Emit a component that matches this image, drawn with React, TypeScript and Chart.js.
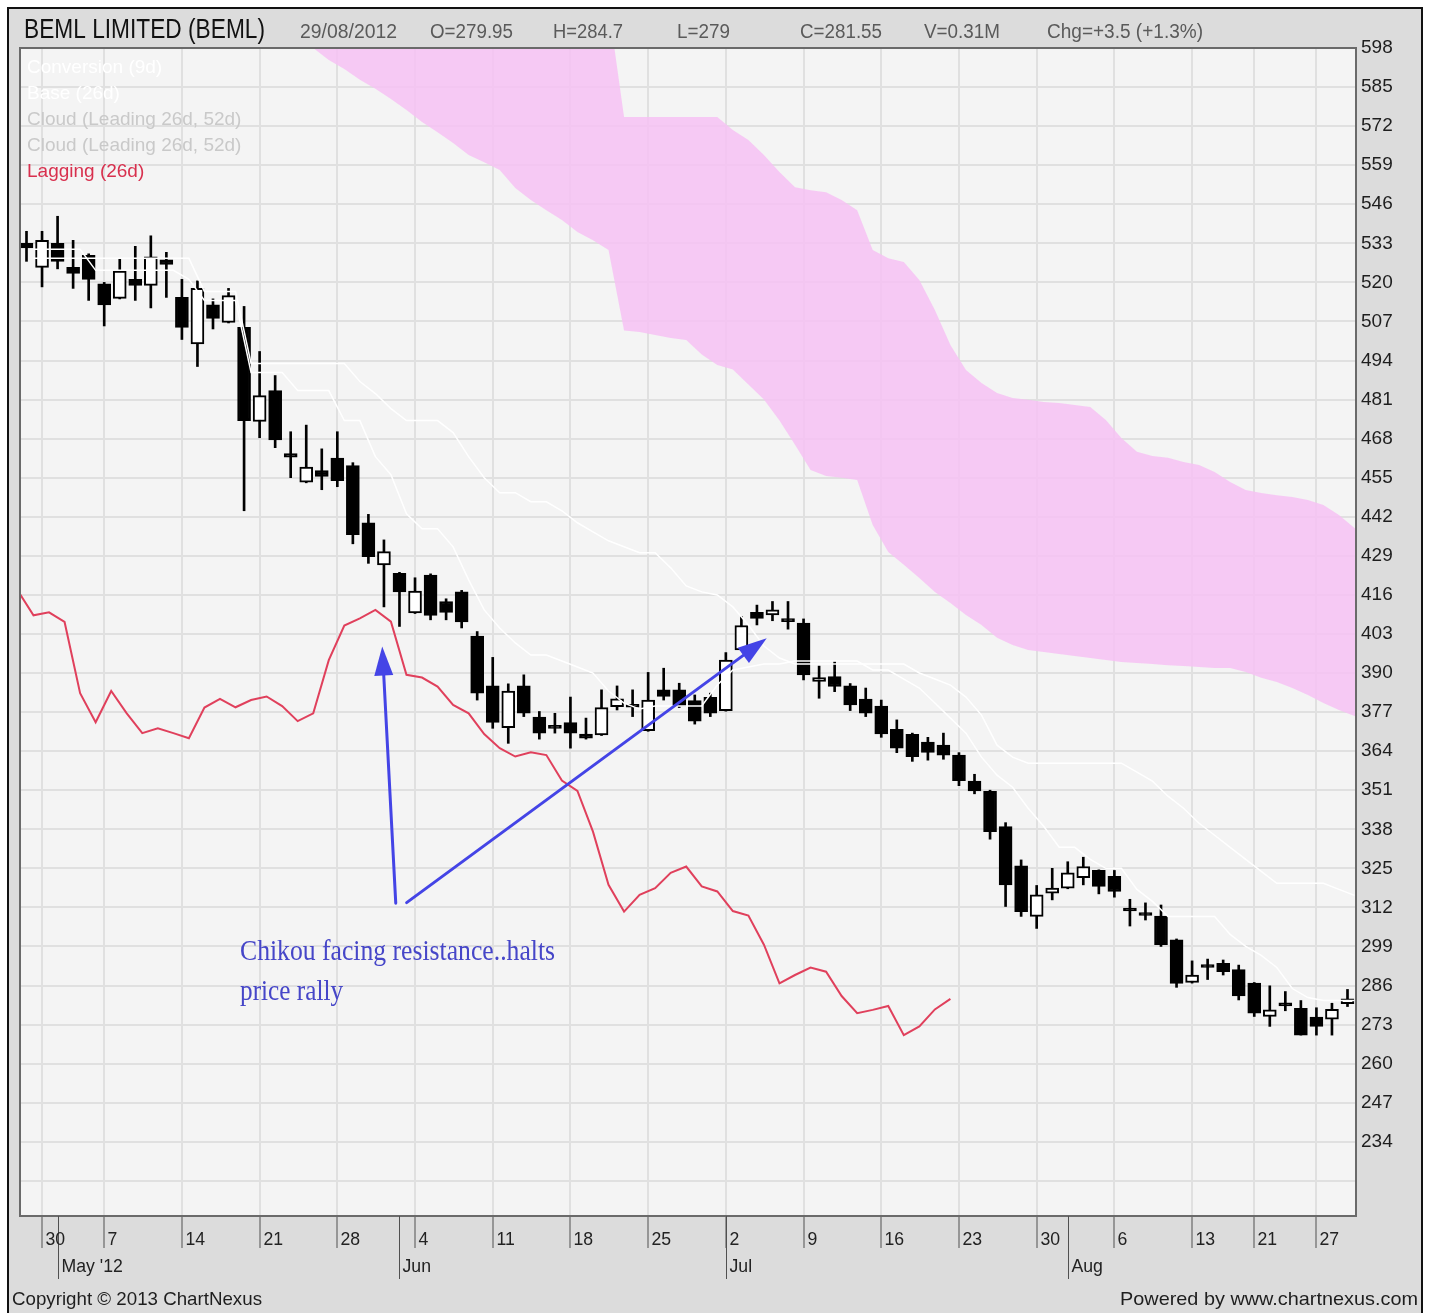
import React, { useEffect, useRef } from 'react';
import { Chart, registerables } from 'chart.js';

Chart.register(...registerables);

// ---------- data ----------
const DATES = [
  '2012-04-27', '2012-04-30',
  '2012-05-02', '2012-05-03', '2012-05-04', '2012-05-07', '2012-05-08', '2012-05-09', '2012-05-10', '2012-05-11',
  '2012-05-14', '2012-05-15', '2012-05-16', '2012-05-17', '2012-05-18', '2012-05-21', '2012-05-22', '2012-05-23',
  '2012-05-24', '2012-05-25', '2012-05-28', '2012-05-29', '2012-05-30', '2012-05-31',
  '2012-06-01', '2012-06-04', '2012-06-05', '2012-06-06', '2012-06-07', '2012-06-08', '2012-06-11', '2012-06-12',
  '2012-06-13', '2012-06-14', '2012-06-15', '2012-06-18', '2012-06-19', '2012-06-20', '2012-06-21', '2012-06-22',
  '2012-06-25', '2012-06-26', '2012-06-27', '2012-06-28', '2012-06-29',
  '2012-07-02', '2012-07-03', '2012-07-04', '2012-07-05', '2012-07-06', '2012-07-09', '2012-07-10', '2012-07-11',
  '2012-07-12', '2012-07-13', '2012-07-16', '2012-07-17', '2012-07-18', '2012-07-19', '2012-07-20', '2012-07-23',
  '2012-07-24', '2012-07-25', '2012-07-26', '2012-07-27', '2012-07-30', '2012-07-31',
  '2012-08-01', '2012-08-02', '2012-08-03', '2012-08-06', '2012-08-07', '2012-08-08', '2012-08-09', '2012-08-10',
  '2012-08-13', '2012-08-14', '2012-08-16', '2012-08-17', '2012-08-21', '2012-08-22', '2012-08-23', '2012-08-24',
  '2012-08-27', '2012-08-28', '2012-08-29',
];

const OPEN = [
  533, 525, 533, 525, 529, 519.5, 514.7, 521, 519, 527.5,
  515, 499.5, 512.5, 506.7, 505, 473.7, 484, 463, 453.5, 457.4,
  461.5, 459, 440, 426, 423.2, 410, 422.6, 413.8, 417, 402.3,
  385.7, 371.8, 385.7, 375.3, 372.3, 373.5, 369.7, 369.4, 378.8, 379.3,
  370.8, 384.4, 384.4, 380.8, 381.9, 377.5, 397.7, 410.2, 409.3, 408,
  406.6, 387.2, 388.8, 385.7, 381.3, 379, 371.3, 369.6, 367, 366,
  362.7, 354, 350.6, 338.9, 325.8, 309, 316.7, 318.4, 321.9, 324.3,
  322.3, 311.8, 310.3, 309.1, 301.2, 287, 292.8, 293.4, 291.3, 286.8,
  275.7, 280.2, 278.4, 275.5, 274.8, 279.95,
];
const HIGH = [
  537, 537, 542, 534, 529.5, 520, 528, 532, 535.5, 530,
  521, 520.5, 514.5, 518, 512, 497, 489, 470.3, 472.5, 464.6,
  470.3, 460, 442.8, 434.3, 423.5, 421.7, 423, 414.7, 417.5, 403.8,
  395.2, 386.4, 389.4, 377.2, 376.6, 382, 375, 384.4, 385.7, 384.4,
  390.2, 391.6, 386.6, 382.7, 383.3, 396.8, 408.8, 412.6, 413.8, 413.8,
  408, 392.3, 393.8, 386.5, 385, 381, 374.4, 370, 368.6, 370,
  363.5, 356.3, 351, 340.2, 327.8, 319.3, 325, 327.2, 328.7, 324.5,
  324.3, 314.7, 313.5, 312.8, 301.5, 294.2, 294.8, 294.5, 292.8, 287,
  285.9, 284, 281, 278.6, 280.1, 284.7,
];
const LOW = [
  527, 518.5, 524.5, 518, 514, 505.5, 514.5, 514, 511.5, 515,
  501, 492, 504.5, 506.5, 444, 468.3, 465, 455, 453.3, 451,
  452, 433, 426.5, 412, 405.5, 409.8, 407.7, 407.7, 405, 381,
  371.6, 366.6, 375.5, 368, 370, 365, 368, 369.2, 377.7, 375.5,
  370.6, 381, 378.5, 373, 375.5, 377.3, 397.5, 406, 407.4, 404.6,
  387.7, 381.6, 383.8, 377.5, 375.5, 368.6, 363.5, 360.6, 361, 361.3,
  352.5, 349.8, 334.7, 312.3, 309, 305, 314.5, 318.2, 319.5, 316.5,
  315.4, 305.8, 307.8, 299, 285.4, 286.8, 288, 289.5, 281.2, 275.7,
  272.4, 277.6, 269.5, 269.5, 269.5, 279,
];
const CLOSE = [
  531.5, 534, 527, 523, 521, 512.5, 523.8, 519, 528.5, 526,
  505, 518, 508, 515.6, 474, 482.3, 467.6, 461.8, 458.5, 455.4,
  454, 436, 428.7, 430.4, 417, 417.3, 409.2, 410.2, 407, 383.3,
  373.6, 384, 376.6, 370, 371.6, 370, 368.3, 378.5, 381.4, 378.6,
  381, 382.2, 379, 374, 376.6, 394.3, 405.8, 408.2, 411, 407.1,
  389.4, 388.5, 385.5, 379.4, 376.6, 369.7, 365, 362.2, 363.6, 362.7,
  354.2, 350.8, 337.2, 319.5, 310.6, 316.2, 318.4, 323.5, 325.6, 319,
  317.3, 310.8, 309.3, 299.6, 286.7, 289.5, 292, 290.6, 282.5, 276.8,
  277.9, 279.2, 269.5, 272.4, 278.05, 281.55,
];
const VOLUME_LAST = '0.31M';

// Conversion (9d) line, index 0..85
const CONVERSION = [
  531, 531, 531, 531, 524, 524, 524, 524, 524, 524,
  521, 514, 514, 514, 490, 490, 490, 484, 484, 484,
  474, 474, 462, 456, 443, 438, 438, 432, 421, 411,
  405, 400, 396, 396, 394, 392, 390, 384, 380, 378,
  379, 379, 379, 379, 386, 391, 392, 393, 393, 394,
  394, 394, 394, 394, 391, 391, 388, 385, 380, 375,
  370, 362, 356, 352, 345, 339, 332, 332, 328, 325,
  325, 318, 314, 309, 309, 309, 309, 303, 299, 296,
  292, 285, 282, 281, 281, 281,
];
// Base (26d) line, index 0..85
const BASE = [
  528, 528, 528, 528, 528, 528, 528, 528, 528, 528,
  528, 517, 517, 517, 493, 493, 493, 493, 493, 493,
  493, 487, 483, 478, 474, 474, 474, 470, 462, 455,
  450, 450, 447, 447, 444, 440, 437, 434, 432, 430,
  430, 425, 419, 417, 416, 412, 406, 399, 395, 393,
  393, 393, 393, 393, 393, 393, 393, 390, 388, 386,
  382, 376, 366, 362, 360, 360, 360, 360, 360, 360,
  360, 357, 354, 349, 345, 340, 336, 332, 328, 324,
  320, 320, 320, 320, 318, 316,
];
// Cloud boundaries, index 16..86
const CLOUD_START = 16;
const CLOUD_UPPER = [
  612, 612, 612, 612, 612, 612, 612, 612, 612, 612,
  612, 612, 612, 612, 612, 612, 612, 612, 612, 612,
  612, 612, 575, 575, 575, 575, 575, 575, 575, 570.7,
  567.4, 562.4, 556.7, 551.7, 550.7, 550, 547.4, 544, 530.8, 528,
  526.8, 520.8, 510.8, 499.2, 490.8, 486.5, 483.2, 481.5, 480.9, 480.2,
  479.9, 479.2, 478.5, 474.2, 468.2, 463.6, 462.2, 461.6, 460.2, 459.2,
  456.9, 453.6, 450.9, 449.9, 449.2, 448.6, 447.6, 445.9, 442.6, 438.3,
  434,
];
const CLOUD_LOWER = [
  608, 603, 598, 594, 591, 587.4, 584.4, 581, 577.4, 573.4,
  570, 566.4, 562.4, 560, 557.4, 551.4, 547.4, 544, 540.8, 536.8,
  534, 530.8, 504, 503.5, 502.5, 501.5, 500.8, 496, 492.5, 491,
  486, 481, 474, 466, 457.6, 455.6, 455, 454.2, 439.3, 430.3,
  426, 421.6, 417, 413.3, 409.3, 406, 401.7, 399.3, 397.7, 397,
  396.3, 395.7, 395, 394.3, 393.7, 393.3, 393, 392.6, 392.3, 392,
  391.7, 391.7, 390.3, 388.4, 387, 385, 382.7, 380, 377.7, 375.7,
  374,
];
// Lagging (26d) line, index -1..59
const LAGGING_START = -1;
const LAGGING = [
  417.3, 409.2, 410.2, 407, 383.3, 373.6, 384, 376.6, 370, 371.6,
  370, 368.3, 378.5, 381.4, 378.6, 381, 382.2, 379, 374, 376.6,
  394.3, 405.8, 408.2, 411, 407.1, 389.4, 388.5, 385.5, 379.4, 376.6,
  369.7, 365, 362.2, 363.6, 362.7, 354.2, 350.8, 337.2, 319.5, 310.6,
  316.2, 318.4, 323.5, 325.6, 319, 317.3, 310.8, 309.3, 299.6, 286.7,
  289.5, 292, 290.6, 282.5, 276.8, 277.9, 279.2, 269.5, 272.4, 278.05,
  281.55,
];

const X_TICK_INDEX = [1, 5, 10, 15, 20, 25, 30, 35, 40, 45, 50, 55, 60, 65, 70, 75, 79, 83];
const X_TICK_LABELS = ['30', '7', '14', '21', '28', '4', '11', '18', '25', '2', '9', '16', '23', '30', '6', '13', '21', '27'];
const MONTH_INDEX = [2, 24, 45, 67];
const MONTH_LABELS = ["May '12", 'Jun', 'Jul', 'Aug'];
const Y_TICKS = [598, 585, 572, 559, 546, 533, 520, 507, 494, 481, 468, 455, 442, 429, 416, 403, 390, 377, 364, 351, 338, 325, 312, 299, 286, 273, 260, 247, 234];
const Y_EXTRA_GRID = [221];

const LEGEND = [
  { text: 'Conversion (9d)', color: '#ffffff' },
  { text: 'Base (26d)', color: '#ffffff' },
  { text: 'Cloud (Leading 26d, 52d)', color: '#c9c9c9' },
  { text: 'Cloud (Leading 26d, 52d)', color: '#c9c9c9' },
  { text: 'Lagging (26d)', color: '#d8304e' },
];
const NOTE_LINES = ['Chikou facing resistance..halts', 'price rally'];
const ARROWS = [
  { from: [23.76, 313.4], to: [22.89, 398.8] },
  { from: [24.46, 313.6], to: [47.63, 401.6] },
];
const NOTE_ANCHOR = [13.74, 294.5];

// ---------- layout / style constants ----------
const W = 1429;
const H = 1313;
const X_MIN = -0.418;
const X_MAX = 85.547;
const Y_MIN = 209.3;
const Y_MAX = 598;
const LINE_SHIFT = 0.45;
const SANS = '"Liberation Sans", Arial, Helvetica, sans-serif';
const SERIF = '"Liberation Serif", "Times New Roman", serif';

function drawText(
  ctx: CanvasRenderingContext2D,
  text: string,
  x: number,
  y: number,
  font: string,
  color: string,
  opts: { width?: number; sx?: number; align?: CanvasTextAlign } = {}
) {
  ctx.save();
  ctx.font = font;
  ctx.fillStyle = color;
  ctx.textBaseline = 'alphabetic';
  ctx.textAlign = opts.align || 'left';
  let sx = opts.sx ?? 1;
  if (opts.width) sx = opts.width / ctx.measureText(text).width;
  ctx.translate(x, y);
  ctx.scale(sx, 1);
  ctx.fillText(text, 0, 0);
  ctx.restore();
}

const overlayPlugin = {
  id: 'overlay',
  beforeDraw(chart: any) {
    const { ctx, chartArea: a } = chart;
    ctx.save();
    ctx.fillStyle = '#f4f4f4';
    ctx.fillRect(a.left, a.top, a.right - a.left, a.bottom - a.top);
    ctx.restore();
  },
  afterDraw(chart: any) {
    const { ctx, chartArea: a, scales } = chart;
    const xs = scales.x;
    const ys = scales.y;

    // annotations (arrows + note)
    ctx.save();
    ctx.beginPath();
    ctx.rect(a.left, a.top, a.right - a.left, a.bottom - a.top);
    ctx.clip();
    const arrowColor = '#4444e6';
    ARROWS.forEach((ar) => {
      const x0 = xs.getPixelForValue(ar.from[0]);
      const y0 = ys.getPixelForValue(ar.from[1]);
      const x1 = xs.getPixelForValue(ar.to[0]);
      const y1 = ys.getPixelForValue(ar.to[1]);
      const len = Math.hypot(x1 - x0, y1 - y0);
      const ux = (x1 - x0) / len;
      const uy = (y1 - y0) / len;
      const headLen = 29;
      const headHalf = 9.5;
      const bx = x1 - ux * headLen;
      const by = y1 - uy * headLen;
      ctx.strokeStyle = arrowColor;
      ctx.lineWidth = 3;
      ctx.lineCap = 'round';
      ctx.beginPath();
      ctx.moveTo(x0, y0);
      ctx.lineTo(bx + ux * 2, by + uy * 2);
      ctx.stroke();
      ctx.fillStyle = arrowColor;
      ctx.beginPath();
      ctx.moveTo(x1, y1);
      ctx.lineTo(bx - uy * headHalf, by + ux * headHalf);
      ctx.lineTo(bx + uy * headHalf, by - ux * headHalf);
      ctx.closePath();
      ctx.fill();
    });
    const nx = xs.getPixelForValue(NOTE_ANCHOR[0]);
    const ny = ys.getPixelForValue(NOTE_ANCHOR[1]);
    drawText(ctx, NOTE_LINES[0], nx, ny, `30px ${SERIF}`, '#4646c8', { width: 315 });
    drawText(ctx, NOTE_LINES[1], nx, ny + 40, `30px ${SERIF}`, '#4646c8', { width: 103 });

    // legend
    LEGEND.forEach((l, k) => {
      drawText(ctx, l.text, a.left + 7, a.top + 25 + k * 26, `19px ${SANS}`, l.color);
    });
    ctx.restore();

    // plot border
    ctx.save();
    ctx.strokeStyle = '#6a6a6a';
    ctx.lineWidth = 2;
    ctx.strokeRect(a.left, a.top, a.right - a.left, a.bottom - a.top);

    // month ticks & labels
    ctx.strokeStyle = '#505050';
    ctx.lineWidth = 1;
    MONTH_INDEX.forEach((m, k) => {
      const px = Math.round(xs.getPixelForValue(m)) + 0.5;
      ctx.beginPath();
      ctx.moveTo(px, a.bottom);
      ctx.lineTo(px, a.bottom + 63);
      ctx.stroke();
      drawText(ctx, MONTH_LABELS[k], px + 3, a.bottom + 56, `19px ${SANS}`, '#222222', { sx: 0.93 });
    });
    // week labels
    X_TICK_INDEX.forEach((t, k) => {
      const px = Math.round(xs.getPixelForValue(t)) + 0.5;
      drawText(ctx, X_TICK_LABELS[k], px + 3, a.bottom + 29, `19px ${SANS}`, '#222222', { sx: 0.93 });
    });
    ctx.restore();

    // header
    const last = CLOSE.length - 1;
    const chg = Number((CLOSE[last] - CLOSE[last - 1]).toFixed(2));
    const pct = ((chg / CLOSE[last - 1]) * 100).toFixed(1);
    const [yy, mm, dd] = DATES[last].split('-');
    drawText(ctx, 'BEML LIMITED (BEML)', 24, 38, `28px ${SANS}`, '#111111', { width: 241 });
    const small = `20px ${SANS}`;
    const grey = '#5a5a5a';
    drawText(ctx, `${dd}/${mm}/${yy}`, 300, 38, small, grey, { width: 97 });
    drawText(ctx, `O=${OPEN[last]}`, 430, 38, small, grey, { width: 83 });
    drawText(ctx, `H=${HIGH[last]}`, 553, 38, small, grey, { width: 70 });
    drawText(ctx, `L=${LOW[last]}`, 677, 38, small, grey, { width: 53 });
    drawText(ctx, `C=${CLOSE[last]}`, 800, 38, small, grey, { width: 82 });
    drawText(ctx, `V=${VOLUME_LAST}`, 924, 38, small, grey, { width: 76 });
    drawText(ctx, `Chg=${chg >= 0 ? '+' : ''}${chg} (${chg >= 0 ? '+' : ''}${pct}%)`, 1047, 38, small, grey, { width: 156 });

    // footer
    drawText(ctx, 'Copyright \u00A9 2013 ChartNexus', 12, 1305, `19px ${SANS}`, '#1e1e1e', { width: 250 });
    drawText(ctx, 'Powered by www.chartnexus.com', 1418, 1305, `19px ${SANS}`, '#1e1e1e', { width: 298, align: 'right' });
  },
};

export default function App() {
  const ref = useRef<HTMLCanvasElement>(null);

  useEffect(() => {
    const idx = DATES.map((_, i) => i);
    const bodies = idx.map((i) => ({ x: i, y: [OPEN[i], CLOSE[i]] }));
    const wicks = idx.map((i) => ({ x: i, y: [LOW[i], HIGH[i]] }));
    const bodyColors = idx.map((i) => (CLOSE[i] >= OPEN[i] ? '#ffffff' : '#000000'));
    const toLine = (arr: number[], start: number) => arr.map((v, k) => ({ x: start + k + LINE_SHIFT, y: v }));

    const lineBase = { type: 'line', pointRadius: 0, tension: 0, fill: false };

    const chart = new Chart(ref.current as HTMLCanvasElement, {
      type: 'bar',
      data: {
        datasets: [
          {
            ...lineBase,
            label: 'Cloud (Leading 26d, 52d)',
            data: toLine(CLOUD_UPPER, CLOUD_START),
            borderWidth: 0,
            borderColor: 'rgba(0,0,0,0)',
            backgroundColor: 'rgba(246,192,244,0.82)',
            fill: '+1',
            order: 10,
          },
          {
            ...lineBase,
            label: 'Cloud (Leading 26d, 52d) ',
            data: toLine(CLOUD_LOWER, CLOUD_START),
            borderWidth: 0,
            borderColor: 'rgba(0,0,0,0)',
            order: 9,
          },
          {
            label: 'Wicks',
            data: wicks,
            backgroundColor: '#000000',
            borderWidth: 0,
            barThickness: 2,
            grouped: false,
            order: 8,
          },
          {
            label: 'BEML',
            data: bodies,
            backgroundColor: bodyColors,
            borderColor: '#000000',
            borderWidth: 2,
            borderSkipped: false,
            barThickness: 13,
            minBarLength: 3,
            grouped: false,
            order: 7,
          },
          {
            ...lineBase,
            label: 'Base (26d)',
            data: toLine(BASE, 0),
            borderColor: '#ffffff',
            borderWidth: 1.5,
            order: 6,
          },
          {
            ...lineBase,
            label: 'Conversion (9d)',
            data: toLine(CONVERSION, 0),
            borderColor: '#ffffff',
            borderWidth: 1.5,
            order: 5,
          },
          {
            ...lineBase,
            label: 'Lagging (26d)',
            data: toLine(LAGGING, LAGGING_START),
            borderColor: '#e0405c',
            borderWidth: 2,
            order: 4,
          },
        ] as any,
      },
      options: {
        responsive: false,
        animation: false,
        devicePixelRatio: 1,
        events: [],
        layout: { padding: { left: 20, top: 48, right: 0, bottom: 0 } },
        plugins: {
          legend: { display: false },
          tooltip: { enabled: false },
        },
        scales: {
          x: {
            type: 'linear',
            min: X_MIN,
            max: X_MAX,
            offset: false,
            grid: {
              offset: false,
              color: '#e0e0e0',
              lineWidth: 2,
              drawTicks: true,
              tickLength: 32,
              tickColor: '#505050',
              tickWidth: 1,
            },
            border: { display: false },
            ticks: { display: false, autoSkip: false },
            afterBuildTicks: (s: any) => {
              s.ticks = X_TICK_INDEX.map((v) => ({ value: v }));
            },
            afterFit: (s: any) => {
              s.height = 97;
            },
          },
          y: {
            type: 'linear',
            position: 'right',
            min: Y_MIN,
            max: Y_MAX,
            grid: { color: '#e0e0e0', lineWidth: 2, drawTicks: false },
            border: { display: false },
            ticks: {
              autoSkip: false,
              padding: 5,
              color: '#1e1e1e',
              font: { family: SANS, size: 19 },
              callback: (v: any) => (Y_TICKS.includes(Number(v)) ? String(v) : ''),
            },
            afterBuildTicks: (s: any) => {
              s.ticks = [...Y_EXTRA_GRID, ...Y_TICKS.slice().reverse()].map((v) => ({ value: v }));
            },
            afterFit: (s: any) => {
              s.width = 73;
            },
          },
        },
      } as any,
      plugins: [overlayPlugin],
    });
    return () => chart.destroy();
  }, []);

  return (
    <div
      style={{
        position: 'fixed',
        left: 0,
        top: 0,
        width: W,
        height: H,
        overflow: 'hidden',
        background: '#ffffff',
      }}
    >
      <div
        style={{
          position: 'absolute',
          left: 7,
          top: 7,
          width: 1416,
          height: 1330,
          boxSizing: 'border-box',
          border: '2px solid #111111',
          background: '#dcdcdc',
        }}
      />
      <canvas
        ref={ref}
        width={W}
        height={H}
        style={{ position: 'absolute', left: 0, top: 0, width: W, height: H }}
      />
    </div>
  );
}
